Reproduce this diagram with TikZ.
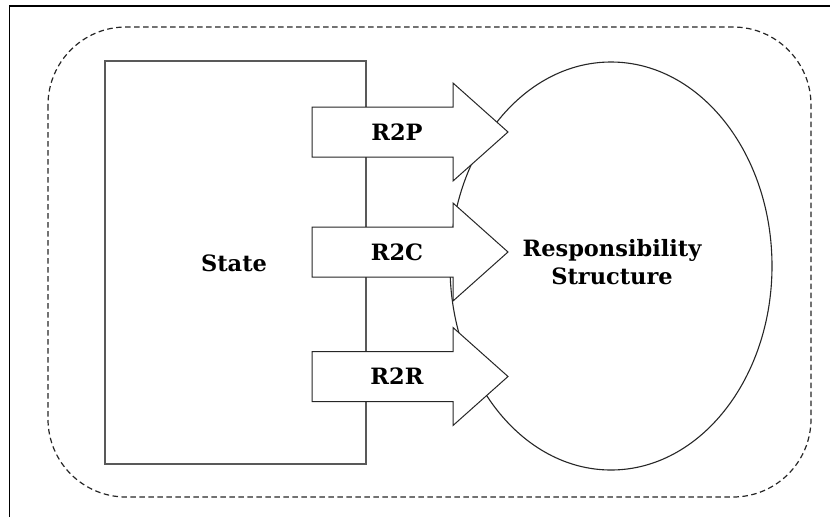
\documentclass[tikz,border=0pt]{standalone}
\usepackage{fontspec}
\setmainfont{DejaVu Serif}
\usetikzlibrary{shapes.geometric}
\begin{document}
\begin{tikzpicture}[x=1pt,y=-1pt,
  frameline/.style={line width=1.8pt,black},
  groupbox/.style={draw=black!85,line width=1.2pt,dash pattern=on 5.5pt off 3.5pt,rounded corners=78pt},
  statebox/.style={draw=black!65,line width=1.1pt,rectangle,minimum width=261pt,minimum height=403pt,inner sep=0pt},
  respshape/.style={draw=black!85,line width=1.1pt,ellipse,minimum width=322pt,minimum height=408pt,inner sep=0pt},
  arrowbox/.style={draw=black!85,line width=1pt,fill=white,line join=miter},
  lbl/.style={font=\bfseries\fontsize{22.5}{28}\selectfont,align=center,inner sep=0pt}]
\useasboundingbox (0,0) rectangle (830,517);
% page frame: only the left and top rules fall inside the picture
\coordinate (fl) at (9.5,517);
\coordinate (ftl) at (9.5,6);
\coordinate (fr) at (830,6);
\draw[frameline] (fl) -- (ftl) -- (fr);
% dashed rounded grouping box
\coordinate (g1) at (48,27);
\coordinate (g2) at (811,497);
\draw[groupbox] (g1) rectangle (g2);
% state block and responsibility structure
\node[statebox] (state) at (235.5,262.5) {};
\node[lbl] (statetxt) at (234,263) {State};
\node[respshape] (resp) at (611,266) {};
\node[lbl] (resptxt) at (612,262) {Responsibility\\Structure};
% block arrows from state to the structure
\foreach \y/\t/\n in {132/R2P/rp, 252/R2C/rc, 376.5/R2R/rr} {
  \draw[arrowbox] (312,\y-25) -- (453,\y-25) -- (453,\y-49) -- (508,\y)
    -- (453,\y+49) -- (453,\y+25) -- (312,\y+25) -- cycle;
  \node[lbl] (\n) at (397,\y) {\t};
}
\end{tikzpicture}
\end{document}
